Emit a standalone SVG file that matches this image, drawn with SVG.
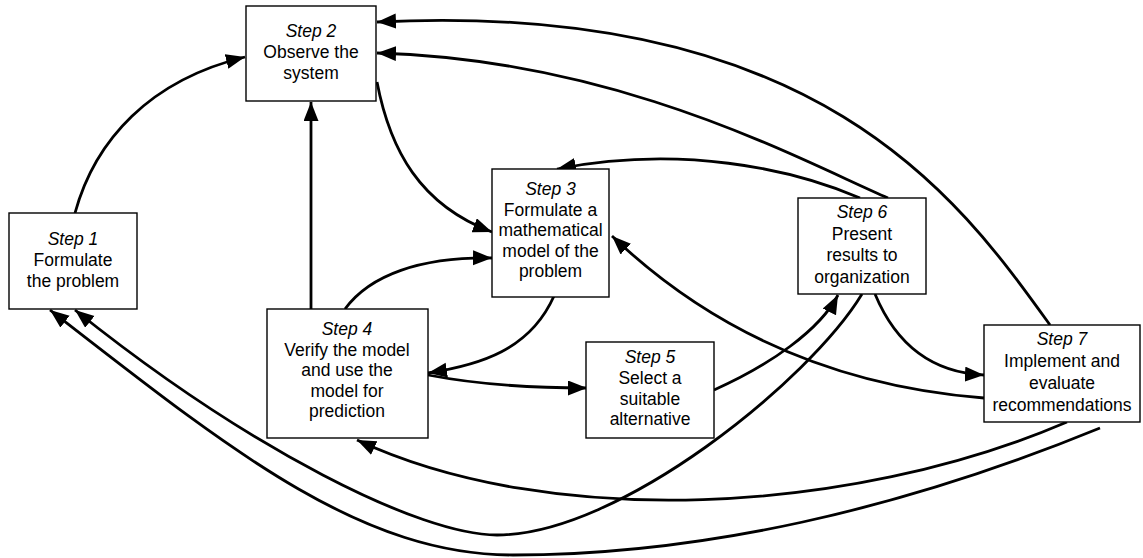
<svg xmlns="http://www.w3.org/2000/svg" width="1143" height="558" viewBox="0 0 1143 558">
<style>
.box{fill:#fff;stroke:#000;stroke-width:1.4}
.t{font-family:"Liberation Sans",Arial,sans-serif;font-size:17.5px;text-anchor:middle;fill:#000}
.s{font-style:italic}
.c{fill:none;stroke:#000;stroke-width:2.8;marker-end:url(#ah)}
</style>
<defs>
<marker id="ah" markerUnits="userSpaceOnUse" markerWidth="20" markerHeight="16" refX="19" refY="7.5" orient="auto" viewBox="0 0 20 16">
<path d="M0,0 L19,7.5 L0,15 z" fill="#000"/>
</marker>
</defs>
<rect width="1143" height="558" fill="#fff"/>
<g id="connectors">
<path class="c" d="M75,213 C95,140 150,80 245,57"/>
<path class="c" d="M377,82 C390,150 420,205 492,232"/>
<path class="c" d="M311,309 L311,102"/>
<path class="c" d="M345,309 C370,275 420,257 492,258"/>
<path class="c" d="M554,296 C530,350 480,365 428,373"/>
<path class="c" d="M428,375 C480,385 540,388 587,388"/>
<path class="c" d="M714,390 C770,365 820,330 838,295"/>
<path class="c" d="M860,198 C790,168 680,145 557,169"/>
<path class="c" d="M888,198 C800,160 620,60 377,53"/>
<path class="c" d="M1050,325 C960,200 820,0 377,22"/>
<path class="c" d="M984,398 C820,385 700,320 612,236"/>
<path class="c" d="M875,294 C890,330 920,372 984,375"/>
<path class="c" d="M862,294 C810,380 620,535 497,535 C420,535 250,450 75,310"/>
<path class="c" d="M1067,422 C850,515 550,530 357,440"/>
<path class="c" d="M1100,428 C900,510 700,555 513,555 C360,555 230,450 50,310"/>
</g>
<g id="step1">
<rect class="box" x="9" y="213" width="128" height="96"/>
<text class="t s" x="73" y="245">Step 1</text>
<text class="t" x="73" y="266">Formulate</text>
<text class="t" x="73" y="287">the problem</text>
</g>
<g id="step2">
<rect class="box" x="246" y="6" width="130" height="95"/>
<text class="t s" x="311" y="37">Step 2</text>
<text class="t" x="311" y="58">Observe the</text>
<text class="t" x="311" y="79">system</text>
</g>
<g id="step3">
<rect class="box" x="492" y="169" width="117" height="128"/>
<text class="t s" x="550.5" y="195">Step 3</text>
<text class="t" x="550.5" y="215.5">Formulate a</text>
<text class="t" x="550.5" y="236">mathematical</text>
<text class="t" x="550.5" y="256.5">model of the</text>
<text class="t" x="550.5" y="277">problem</text>
</g>
<g id="step4">
<rect class="box" x="267" y="309" width="161" height="129"/>
<text class="t s" x="347" y="335">Step 4</text>
<text class="t" x="347" y="355.5">Verify the model</text>
<text class="t" x="347" y="376">and use the</text>
<text class="t" x="347" y="396.5">model for</text>
<text class="t" x="347" y="417">prediction</text>
</g>
<g id="step5">
<rect class="box" x="586" y="342" width="128" height="96"/>
<text class="t s" x="650" y="363">Step 5</text>
<text class="t" x="650" y="384">Select a</text>
<text class="t" x="650" y="405">suitable</text>
<text class="t" x="650" y="425">alternative</text>
</g>
<g id="step6">
<rect class="box" x="798" y="198" width="128" height="96"/>
<text class="t s" x="862" y="218">Step 6</text>
<text class="t" x="862" y="239.5">Present</text>
<text class="t" x="862" y="261">results to</text>
<text class="t" x="862" y="282.5">organization</text>
</g>
<g id="step7">
<rect class="box" x="984" y="325" width="156" height="97"/>
<text class="t s" x="1062" y="345">Step 7</text>
<text class="t" x="1062" y="367">Implement and</text>
<text class="t" x="1062" y="389">evaluate</text>
<text class="t" x="1062" y="411">recommendations</text>
</g>
</svg>
